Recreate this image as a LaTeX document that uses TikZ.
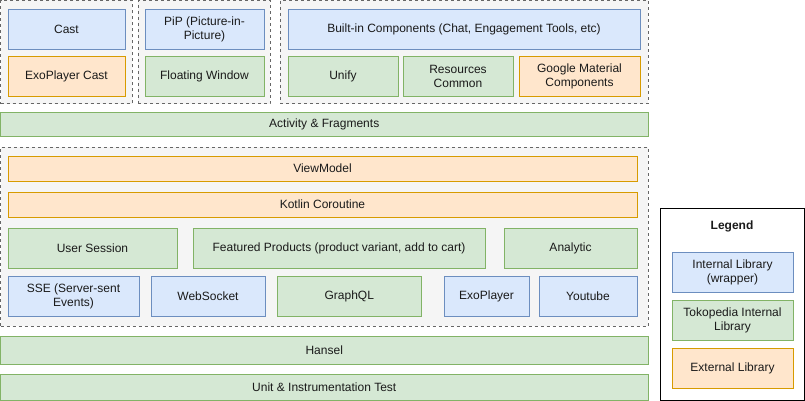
\documentclass[tikz,border=0pt]{standalone}
\usepackage{fontspec}
\setmainfont{Liberation Sans}
\definecolor{bluefill}{HTML}{DAE8FC}
\definecolor{bluedraw}{HTML}{6C8EBF}
\definecolor{greenfill}{HTML}{D5E8D4}
\definecolor{greendraw}{HTML}{82B366}
\definecolor{orangefill}{HTML}{FFE6CC}
\definecolor{orangedraw}{HTML}{D79B00}
\definecolor{groupfill}{HTML}{F5F5F5}
\definecolor{groupdraw}{HTML}{666666}
\definecolor{textgray}{HTML}{1A1A1A}

\begin{document}
\begin{tikzpicture}[x=1pt, y=-1pt,
    font=\fontsize{12}{14}\selectfont, text=textgray,
    box/.style={rectangle, inner sep=0pt, outer sep=0pt, align=center, line width=1pt},
    bluebox/.style={box, draw=bluedraw, fill=bluefill},
    greenbox/.style={box, draw=greendraw, fill=greenfill},
    orangebox/.style={box, draw=orangedraw, fill=orangefill},
    groupbox/.style={box, draw=groupdraw, fill=groupfill, dash pattern=on 3pt off 3pt}]
      \useasboundingbox (0,0) rectangle (805,401);
      % top groups
      \node [groupbox, minimum width=131.5, minimum height=103.5] (castgroup) at (66.25,52.25) {};
      \node [groupbox, minimum width=132, minimum height=103.5] (pipgroup) at (204,52.25) {};
      \node [groupbox, minimum width=368, minimum height=103.5] (compgroup) at (464,52.25) {};
      \node [bluebox, minimum width=117, minimum height=40] (cast) at (66.5,29.5) {Cast};
      \node [orangebox, minimum width=117, minimum height=40] (exocast) at (66.5,76.5) {ExoPlayer Cast};
      \node [bluebox, minimum width=119, minimum height=40] (pip) at (204.5,29.5) {PiP (Picture-in-\\Picture)};
      \node [greenbox, minimum width=119, minimum height=40] (floating) at (204.5,76.5) {Floating Window};
      \node [bluebox, minimum width=352, minimum height=40] (builtin) at (464,29.5) {Built-in Components (Chat, Engagement Tools, etc)};
      \node [greenbox, minimum width=110, minimum height=40] (unify) at (343,76.5) {Unify};
      \node [greenbox, minimum width=110, minimum height=40] (resources) at (458,76.5) {Resources\\Common};
      \node [orangebox, minimum width=121, minimum height=40] (material) at (579.5,76.5) {Google Material\\Components};
      \node [greenbox, minimum width=647.5, minimum height=23] (activity) at (324.25,124.5) {Activity \& Fragments};
      % middle group
      \node [groupbox, minimum width=647.5, minimum height=179] (coregroup) at (324.25,236.5) {};
      \node [orangebox, minimum width=629, minimum height=25] (viewmodel) at (322.5,168.5) {ViewModel};
      \node [orangebox, minimum width=629, minimum height=25] (coroutine) at (322.5,204.5) {Kotlin Coroutine};
      \node [greenbox, minimum width=169, minimum height=40] (session) at (92.5,248) {User Session};
      \node [greenbox, minimum width=292, minimum height=40] (featured) at (339,248) {Featured Products (product variant, add to cart)};
      \node [greenbox, minimum width=133, minimum height=40] (analytic) at (570.5,248) {Analytic};
      \node [bluebox, minimum width=131, minimum height=40] (sse) at (73.5,296.5) {SSE (Server-sent\\Events)};
      \node [bluebox, minimum width=114, minimum height=40] (websocket) at (208,296.5) {WebSocket};
      \node [greenbox, minimum width=144.5, minimum height=40] (graphql) at (349.25,296.5) {GraphQL};
      \node [bluebox, minimum width=85, minimum height=40] (exoplayer) at (486.5,296.5) {ExoPlayer};
      \node [bluebox, minimum width=98, minimum height=40] (youtube) at (588,296.5) {Youtube};
      % bottom layers
      \node [greenbox, minimum width=647.5, minimum height=28] (hansel) at (324.25,350) {Hansel};
      \node [greenbox, minimum width=647.5, minimum height=26] (testing) at (324.25,387) {Unit \& Instrumentation Test};
      % legend
      \node [box, draw=black, fill=white, minimum width=144, minimum height=192] (legend) at (732,304) {};
      \node [font=\fontsize{12}{14}\selectfont\bfseries] (legendtitle) at (732,226) {Legend};
      \node [bluebox, minimum width=121, minimum height=40] (keyinternal) at (732.5,272) {Internal Library\\(wrapper)};
      \node [greenbox, minimum width=121, minimum height=40] (keytoko) at (732.5,320.5) {Tokopedia Internal\\Library};
      \node [orangebox, minimum width=121, minimum height=40] (keyexternal) at (732.5,368) {External Library};
    \end{tikzpicture}
\end{document}
